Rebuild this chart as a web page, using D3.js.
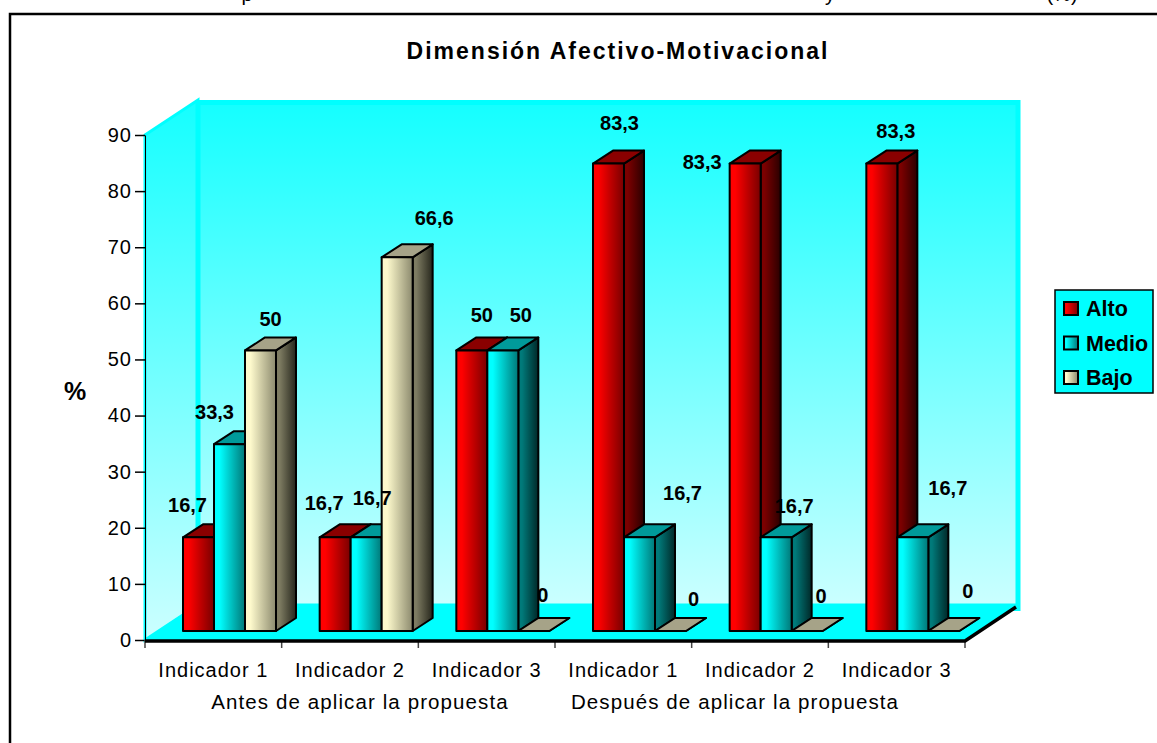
<!DOCTYPE html>
<html>
<head>
<meta charset="utf-8">
<script src="https://cdn.jsdelivr.net/npm/d3@7"></script>
<style>
    html, body { margin: 0; padding: 0; background: #fff; overflow: hidden; }
    svg { display: block; font-family: "Liberation Sans", Arial, sans-serif; }
</style>
</head>
<body>
<div id="chart"></div>
<script>
const title = 'Dimensión Afectivo-Motivacional';
const yAxisLabel = '%';
const categories = ['Indicador 1', 'Indicador 2', 'Indicador 3', 'Indicador 1', 'Indicador 2', 'Indicador 3'];
const periods = ['Antes de aplicar la propuesta', 'Después de aplicar la propuesta'];
const seriesNames = ['Alto', 'Medio', 'Bajo'];
const alto = [16.7, 16.7, 50, 83.3, 83.3, 83.3];
const medio = [33.3, 16.7, 50, 16.7, 16.7, 16.7];
const bajo = [50, 66.6, 0, 0, 0, 0];
const yTicks = [0, 10, 20, 30, 40, 50, 60, 70, 80, 90];
const captionBits = [[247, 'p'], [830, 'y'], [1062, '(%)']];

// hand placed data labels, dx/dy from the top of the bar front, same order as the series
const altoLabelNudge = [[-11, -25], [-11, -27], [10, -28], [11, -34], [-43, 5], [14, -26]];
const medioLabelNudge = [[-15, -25], [6, -32], [18, -28], [43, -37], [18, -24], [35, -42]];
const bajoLabelNudge = [[10, -24], [37, -32], [9, -29], [23, -25], [14, -28], [24, -33]];
const periodNudge = [10, -25];

const width = 1157,
    height = 743,
    depthX = 20,
    depthY = 13,
    wallDepthX = 53,
    wallDepthY = 35,
    floorInset = 9;

const colors = {
    Alto: {front: ['#ff0000', '#780000'], side: ['#7c0000', '#2a0000'], top: '#8a0000'},
    Medio: {front: ['#00ffff', '#007878'], side: ['#007a7a', '#002828'], top: '#009a9a'},
    Bajo: {front: ['#fdf9cc', '#8c8a6e'], side: ['#7e7c62', '#26261c'], top: '#a6a388'}
};
const values = {Alto: alto, Medio: medio, Bajo: bajo};
const nudges = {Alto: altoLabelNudge, Medio: medioLabelNudge, Bajo: bajoLabelNudge};

const svg = d3.select('#chart').append('svg')
    .attr('width', width)
    .attr('height', height);

const defs = svg.append('defs');
function hGradient(id, stops) {
    const g = defs.append('linearGradient').attr('id', id);
    g.append('stop').attr('offset', '18%').attr('stop-color', stops[0]);
    g.append('stop').attr('offset', '100%').attr('stop-color', stops[1]);
}
seriesNames.forEach(name => {
    hGradient(`front-${name}`, colors[name].front);
    hGradient(`side-${name}`, colors[name].side);
});
const wallGradient = defs.append('linearGradient').attr('id', 'wall')
    .attr('x1', 0).attr('x2', 0).attr('y1', 0).attr('y2', 1);
wallGradient.append('stop').attr('offset', '0%').attr('stop-color', '#14ffff');
wallGradient.append('stop').attr('offset', '100%').attr('stop-color', '#ccffff');

const xBand = d3.scaleBand()
    .domain(d3.range(categories.length))
    .range([145, 965]);

const xInner = d3.scaleBand()
    .domain(seriesNames)
    .range([38, 131]);

const yScale = d3.scaleLinear()
    .domain([0, 90])
    .range([640, 135]);

const x0 = xBand.range()[0],
    x1 = xBand.range()[1],
    yTop = yScale(90),
    yBottom = yScale(0);

// page frame, only top and left edges are inside the picture
svg.append('path')
    .attr('d', `M${width},14 H10 V${height}`)
    .attr('fill', 'none')
    .attr('stroke', '#000')
    .attr('stroke-width', 2.5);

svg.append('g').selectAll('text')
    .data(captionBits)
    .enter().append('text')
    .attr('x', d => d[0])
    .attr('y', 1)
    .attr('text-anchor', 'middle')
    .attr('font-size', 20)
    .text(d => d[1]);

svg.append('text')
    .attr('x', 618)
    .attr('y', 59)
    .attr('text-anchor', 'middle')
    .attr('font-size', 23)
    .attr('font-weight', 'bold')
    .attr('letter-spacing', 2)
    .text(title);

// walls and floor
const walls = svg.append('g');
walls.append('polygon')
    .attr('points', [[x0, yTop], [x0 + wallDepthX, yTop - wallDepthY], [x0 + wallDepthX, yBottom - wallDepthY], [x0, yBottom]].join(' '))
    .attr('fill', 'url(#wall)')
    .attr('stroke', '#00ffff')
    .attr('stroke-width', 3);
walls.append('rect')
    .attr('x', x0 + wallDepthX)
    .attr('y', yTop - wallDepthY + 2.5)
    .attr('width', x1 - x0)
    .attr('height', yBottom - yTop + 1)
    .attr('fill', 'url(#wall)')
    .attr('stroke', '#00ffff')
    .attr('stroke-width', 5);
walls.append('polygon')
    .attr('points', [[x0, yBottom], [x0 + wallDepthX, yBottom - wallDepthY - 1], [x1 + wallDepthX, yBottom - wallDepthY - 1], [x1, yBottom]].join(' '))
    .attr('fill', '#00ffff')
    .attr('stroke', '#00ffff');

// y axis
const yAxis = d3.axisLeft(yScale)
    .tickValues(yTicks)
    .tickSize(10)
    .tickPadding(3)
    .tickSizeOuter(0);

const gYAxis = svg.append('g')
    .attr('class', 'y axis')
    .attr('transform', `translate(${x0},0)`)
    .call(yAxis);
gYAxis.selectAll('text').attr('font-size', 20).attr('letter-spacing', 1).attr('font-family', 'inherit').attr('fill', '#000');
gYAxis.selectAll('line').attr('stroke', '#000').attr('stroke-width', 1.5);
gYAxis.select('.domain').attr('stroke', '#000').attr('stroke-width', 1);

// x axis, labels sit in the band centers and ticks on the band edges
const xAxis = d3.axisBottom(xBand)
    .tickFormat(i => categories[i])
    .tickSize(0)
    .tickPadding(23)
    .tickSizeOuter(0);

const gXAxis = svg.append('g')
    .attr('class', 'x axis')
    .attr('transform', `translate(0,${yBottom})`)
    .call(xAxis);
gXAxis.select('.domain').remove();
gXAxis.selectAll('text').attr('font-size', 20).attr('letter-spacing', 1).attr('font-family', 'inherit').attr('fill', '#000');

svg.append('g').selectAll('line')
    .data(d3.range(categories.length + 1))
    .enter().append('line')
    .attr('x1', i => x0 + i * xBand.step())
    .attr('x2', i => x0 + i * xBand.step())
    .attr('y1', yBottom)
    .attr('y2', yBottom + 8)
    .attr('stroke', '#444')
    .attr('stroke-width', 1.5);

svg.append('path')
    .attr('d', `M${x0},${yBottom + 1} H${x1} L${x1 + wallDepthX - 2},${yBottom - wallDepthY + 2}`)
    .attr('fill', 'none')
    .attr('stroke', '#000')
    .attr('stroke-width', 3.5);

svg.append('g').selectAll('text')
    .data(periods)
    .enter().append('text')
    .attr('x', (d, i) => xBand(i * 3) + xBand.step() * 1.5 + periodNudge[i])
    .attr('y', 709)
    .attr('text-anchor', 'middle')
    .attr('font-size', 20.5)
    .attr('letter-spacing', 1.1)
    .text(d => d);

svg.append('text')
    .attr('x', 75)
    .attr('y', 400)
    .attr('text-anchor', 'middle')
    .attr('font-size', 25)
    .attr('font-weight', 'bold')
    .text(yAxisLabel);

// bars
const barBase = yBottom - floorInset;
const barHeight = v => yBottom - yScale(v);

categories.forEach((cat, i) => {
    const group = svg.append('g')
        .attr('transform', `translate(${xBand(i)},0)`);

    seriesNames.forEach(name => {
        const bx = xInner(name),
            bw = xInner.bandwidth(),
            top = barBase - barHeight(values[name][i]),
            bar = group.append('g')
                .attr('stroke', '#000')
                .attr('stroke-width', 2)
                .attr('stroke-linejoin', 'round');

        bar.append('polygon')
            .attr('points', [[bx + bw, top], [bx + bw + depthX, top - depthY], [bx + bw + depthX, barBase - depthY], [bx + bw, barBase]].join(' '))
            .attr('fill', `url(#side-${name})`);
        bar.append('polygon')
            .attr('points', [[bx, top], [bx + depthX, top - depthY], [bx + bw + depthX, top - depthY], [bx + bw, top]].join(' '))
            .attr('fill', colors[name].top);
        bar.append('rect')
            .attr('x', bx)
            .attr('y', top)
            .attr('width', bw)
            .attr('height', barBase - top)
            .attr('fill', `url(#front-${name})`);
    });
});

// data labels go on top of every bar
categories.forEach((cat, i) => {
    seriesNames.forEach(name => {
        const v = values[name][i],
            nudge = nudges[name][i];
        svg.append('text')
            .attr('x', xBand(i) + xInner(name) + nudge[0] + xInner.bandwidth() / 2)
            .attr('y', barBase - barHeight(v) + nudge[1])
            .attr('text-anchor', 'middle')
            .attr('font-size', 20)
            .attr('font-weight', 'bold')
            .text(String(v).replace('.', ','));
    });
});

// legend
const legend = svg.append('g')
    .attr('transform', 'translate(1055,290)');
legend.append('rect')
    .attr('width', 98)
    .attr('height', 103)
    .attr('fill', '#00ffff')
    .attr('stroke', '#000')
    .attr('stroke-width', 1.5);
const legendY = d3.scalePoint()
    .domain(seriesNames)
    .range([18.5, 87.5]);
const legendItem = legend.selectAll('g')
    .data(seriesNames)
    .enter().append('g')
    .attr('transform', d => `translate(0,${legendY(d)})`);
legendItem.append('rect')
    .attr('x', 9)
    .attr('y', -6.5)
    .attr('width', 14)
    .attr('height', 13)
    .attr('fill', d => `url(#front-${d})`)
    .attr('stroke', '#000')
    .attr('stroke-width', 2);
legendItem.append('text')
    .attr('x', 31)
    .attr('y', 7.5)
    .attr('font-size', 21.5)
    .attr('font-weight', 'bold')
    .text(d => d);
</script>
</body>
</html>
